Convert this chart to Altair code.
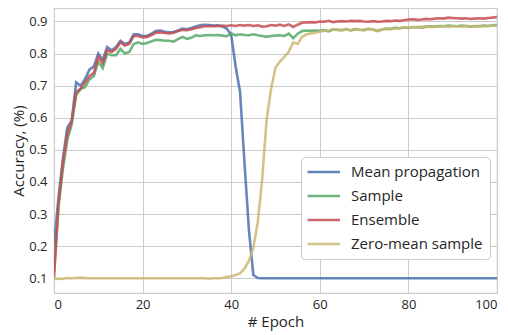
import altair as alt
import pandas as pd

epochs = list(range(0, 101))

mean_propagation = [
    0.20, 0.35, 0.47, 0.57, 0.59, 0.71, 0.70, 0.72, 0.75, 0.76,
    0.80, 0.78, 0.82, 0.81, 0.82, 0.84, 0.83, 0.835, 0.86, 0.86,
    0.855, 0.855, 0.862, 0.870, 0.872, 0.868, 0.866, 0.867, 0.872, 0.878,
    0.876, 0.880, 0.884, 0.888, 0.890, 0.889, 0.887, 0.888, 0.884, 0.878,
    0.858, 0.76, 0.68, 0.46, 0.25, 0.11, 0.101, 0.100, 0.100, 0.100,
    0.100, 0.100, 0.100, 0.100, 0.100, 0.100, 0.100, 0.100, 0.100, 0.100,
    0.100, 0.100, 0.100, 0.100, 0.100, 0.100, 0.100, 0.100, 0.100, 0.100,
    0.100, 0.100, 0.100, 0.100, 0.100, 0.100, 0.100, 0.100, 0.100, 0.100,
    0.100, 0.100, 0.100, 0.100, 0.100, 0.100, 0.100, 0.100, 0.100, 0.100,
    0.100, 0.100, 0.100, 0.100, 0.100, 0.100, 0.100, 0.100, 0.100, 0.100,
    0.100,
]

sample = [
    0.12, 0.32, 0.44, 0.53, 0.58, 0.67, 0.69, 0.695, 0.72, 0.73,
    0.775, 0.755, 0.80, 0.795, 0.795, 0.815, 0.80, 0.805, 0.83, 0.835,
    0.830, 0.833, 0.838, 0.843, 0.842, 0.840, 0.840, 0.837, 0.845, 0.852,
    0.846, 0.849, 0.857, 0.855, 0.857, 0.858, 0.857, 0.858, 0.856, 0.854,
    0.863, 0.857, 0.860, 0.858, 0.857, 0.860, 0.857, 0.855, 0.852, 0.855,
    0.856, 0.857, 0.855, 0.862, 0.848, 0.862, 0.870, 0.872, 0.871, 0.872,
    0.871, 0.873, 0.869, 0.875, 0.874, 0.873, 0.876, 0.872, 0.876, 0.874,
    0.873, 0.877, 0.875, 0.871, 0.875, 0.878, 0.877, 0.880, 0.879, 0.881,
    0.880, 0.882, 0.883, 0.881, 0.884, 0.885, 0.884, 0.886, 0.885, 0.887,
    0.886, 0.885, 0.887, 0.886, 0.884, 0.886, 0.885, 0.887, 0.886, 0.888,
    0.889,
]

ensemble = [
    0.10, 0.33, 0.46, 0.55, 0.59, 0.68, 0.69, 0.71, 0.73, 0.74,
    0.79, 0.77, 0.81, 0.805, 0.815, 0.835, 0.825, 0.83, 0.855, 0.855,
    0.850, 0.852, 0.858, 0.865, 0.866, 0.864, 0.863, 0.865, 0.870, 0.874,
    0.873, 0.876, 0.880, 0.882, 0.885, 0.885, 0.885, 0.886, 0.887, 0.886,
    0.888, 0.886, 0.889, 0.887, 0.889, 0.886, 0.888, 0.884, 0.885, 0.889,
    0.887, 0.890, 0.886, 0.891, 0.883, 0.890, 0.896, 0.897, 0.898, 0.897,
    0.900, 0.899, 0.902, 0.898, 0.900, 0.901, 0.900, 0.902, 0.901, 0.902,
    0.900, 0.899, 0.901, 0.899, 0.900, 0.902, 0.901, 0.903, 0.902, 0.904,
    0.906, 0.907, 0.905, 0.906, 0.908, 0.907, 0.909, 0.910, 0.909, 0.912,
    0.911, 0.910, 0.909, 0.910, 0.908, 0.909, 0.910, 0.909, 0.911, 0.912,
    0.914,
]

zero_mean_sample = [
    0.100, 0.098, 0.099, 0.101, 0.100, 0.101, 0.102, 0.101, 0.100, 0.100,
    0.100, 0.100, 0.100, 0.100, 0.100, 0.100, 0.100, 0.100, 0.100, 0.100,
    0.100, 0.100, 0.100, 0.100, 0.100, 0.100, 0.100, 0.100, 0.100, 0.100,
    0.100, 0.100, 0.100, 0.100, 0.100, 0.099, 0.100, 0.100, 0.101, 0.104,
    0.106, 0.110, 0.115, 0.130, 0.155, 0.195, 0.275, 0.410, 0.595, 0.690,
    0.756, 0.775, 0.790, 0.806, 0.835, 0.830, 0.852, 0.860, 0.863, 0.865,
    0.868, 0.871, 0.872, 0.876, 0.874, 0.873, 0.876, 0.872, 0.876, 0.874,
    0.875, 0.877, 0.874, 0.870, 0.874, 0.877, 0.876, 0.878, 0.879, 0.882,
    0.881, 0.883, 0.882, 0.884, 0.883, 0.884, 0.883, 0.885, 0.886, 0.884,
    0.886, 0.885, 0.884, 0.886, 0.885, 0.884, 0.886, 0.885, 0.886, 0.887,
    0.887,
]

series_names = ["Mean propagation", "Sample", "Ensemble", "Zero-mean sample"]
series_colors = ["#4C72B0", "#55A868", "#C44E52", "#CCB974"]
series_values = [mean_propagation, sample, ensemble, zero_mean_sample]

rows = []
for order, (name, vals) in enumerate(zip(series_names, series_values)):
    for e, v in zip(epochs, vals):
        rows.append({"epoch": e, "acc": v, "series": name, "order": order})
df = pd.DataFrame(rows)

FONT = "Open Sans"
TXT = "#262626"

chart = (
    alt.Chart(df)
    .mark_line(strokeWidth=2.6, opacity=0.85, clip=True)
    .encode(
        x=alt.X(
            "epoch:Q",
            title="# Epoch",
            scale=alt.Scale(domain=[0, 100], nice=False, zero=False),
            axis=alt.Axis(values=[0, 20, 40, 60, 80, 100], format="d"),
        ),
        y=alt.Y(
            "acc:Q",
            title="Accuracy, (%)",
            scale=alt.Scale(domain=[0.0542, 0.942], nice=False, zero=False),
            axis=alt.Axis(values=[0.1, 0.2, 0.3, 0.4, 0.5, 0.6, 0.7, 0.8, 0.9], format=".1f"),
        ),
        color=alt.Color(
            "series:N",
            scale=alt.Scale(domain=series_names, range=series_colors),
            legend=alt.Legend(
                title=None,
                orient="none",
                legendX=247,
                legendY=149,
                symbolType="M-1.3,0H3.7",
                symbolSize=169,
                symbolStrokeWidth=2.6,
                symbolOpacity=0.85,
                labelFont=FONT,
                labelFontSize=15,
                labelColor=TXT,
                labelOffset=27,
                rowPadding=8,
                padding=7,
                fillColor="white",
                strokeColor="#cccccc",
                cornerRadius=4,
            ),
        ),
        order="order:O",
    )
    .properties(
        width=443,
        height=285,
        padding={"left": 46, "top": 0, "right": 3, "bottom": 40},
        autosize=alt.AutoSizeParams(type="none"),
    )
    .configure_view(stroke="#cccccc", strokeWidth=1.2)
    .configure_axis(
        grid=True,
        gridColor="#cccccc",
        gridWidth=1,
        domain=False,
        ticks=False,
        labelFont=FONT,
        labelFontSize=13,
        labelColor=TXT,
        titleFont=FONT,
        titleFontSize=15,
        titleColor=TXT,
        titleFontWeight="normal",
        labelPadding=7,
    )
    .configure_axisY(titlePadding=2)
    .configure_axisX(titlePadding=3, labelPadding=5)
)

chart.save("out.html", embed_options={"renderer": "svg", "actions": False})
